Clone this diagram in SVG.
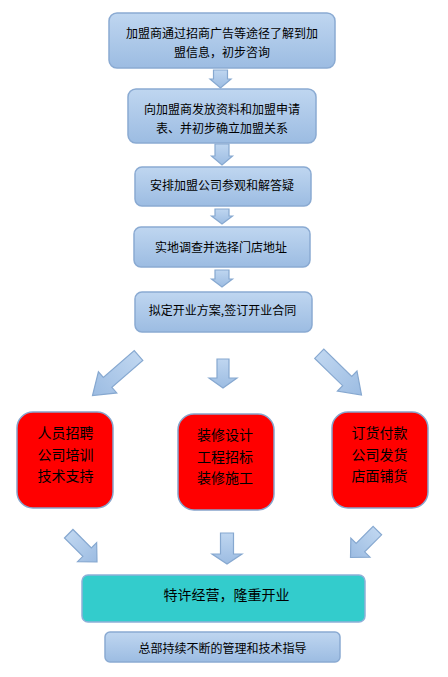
<svg xmlns="http://www.w3.org/2000/svg" width="448" height="677" viewBox="0 0 448 677">
<defs>
<linearGradient id="blueGrad" x1="0" y1="0" x2="0" y2="1">
<stop offset="0" stop-color="#BFD6F0"/>
<stop offset="1" stop-color="#9CBCE2"/>
</linearGradient>
<style>
.box{fill:url(#blueGrad);stroke:#8AAAD2;stroke-width:1.5}
.red{fill:#FF0000;stroke:#86A4CC;stroke-width:1.5}
.teal{fill:#33CCCC;stroke:#8EB0D8;stroke-width:1.5}
.arr{fill:url(#blueGrad);stroke:#86A8D0;stroke-width:1.2}
text{font-family:"Noto Sans CJK SC","Noto Sans",sans-serif;fill:#000;text-anchor:middle}
.t12{font-size:12px}
.t14{font-size:14px}
</style>
</defs>
<rect width="448" height="677" fill="#FFFFFF"/>
<g id="connectors">
<polygon class="arr" transform="translate(220.5,88)" points="-7,-18 7,-18 7,-9 10.5,-9 0,0 -10.5,-9 -7,-9"/>
<polygon class="arr" transform="translate(222,165)" points="-7,-21 7,-21 7,-9 10.5,-9 0,0 -10.5,-9 -7,-9"/>
<polygon class="arr" transform="translate(222,224)" points="-7,-15 7,-15 7,-8 10.5,-8 0,0 -10.5,-8 -7,-8"/>
<polygon class="arr" transform="translate(222,287)" points="-7,-17 7,-17 7,-8 10.5,-8 0,0 -10.5,-8 -7,-8"/>
<polygon class="arr" transform="translate(92.5,395.5) rotate(49)" points="-6.5,-61 6.5,-61 6.5,-20 14,-20 0,0 -14,-20 -6.5,-20"/>
<polygon class="arr" transform="translate(223,388)" points="-6,-29 6,-29 6,-10 14,-10 0,0 -14,-10 -6,-10"/>
<polygon class="arr" transform="translate(361.5,395) rotate(-45.7)" points="-6.5,-59 6.5,-59 6.5,-20 14,-20 0,0 -14,-20 -6.5,-20"/>
<polygon class="arr" transform="translate(97,562) rotate(-45)" points="-6,-40 6,-40 6,-14 13.5,-14 0,0 -13.5,-14 -6,-14"/>
<polygon class="arr" transform="translate(227,564)" points="-6.5,-31 6.5,-31 6.5,-10 15,-10 0,0 -15,-10 -6.5,-10"/>
<polygon class="arr" transform="translate(350.5,557.5) rotate(45)" points="-6,-38 6,-38 6,-14 13.5,-14 0,0 -13.5,-14 -6,-14"/>
</g>
<g id="n1">
<rect class="box" x="109" y="13" width="226" height="55" rx="8"/>
<text class="t12" x="222" y="38">加盟商通过招商广告等途径了解到加</text>
<text class="t12" x="222" y="57">盟信息，初步咨询</text>
</g>
<g id="n2">
<rect class="box" x="128" y="89" width="188" height="54" rx="8"/>
<text class="t12" x="222" y="114">向加盟商发放资料和加盟申请</text>
<text class="t12" x="222" y="133">表、并初步确立加盟关系</text>
</g>
<g id="n3">
<rect class="box" x="135" y="167" width="176" height="39" rx="7"/>
<text class="t12" x="222" y="190">安排加盟公司参观和解答疑</text>
</g>
<g id="n4">
<rect class="box" x="134" y="227" width="176" height="40" rx="7"/>
<text class="t12" x="221" y="251.5">实地调查并选择门店地址</text>
</g>
<g id="n5">
<rect class="box" x="135" y="292" width="177" height="40" rx="7"/>
<text class="t12" x="222.5" y="315">拟定开业方案,签订开业合同</text>
</g>
<g id="n6">
<rect class="red" x="17" y="412" width="96" height="96" rx="16"/>
<text class="t14" x="65.5" y="438">人员招聘</text>
<text class="t14" x="65.5" y="459.5">公司培训</text>
<text class="t14" x="65.5" y="481">技术支持</text>
</g>
<g id="n7">
<rect class="red" x="178" y="414" width="96" height="96" rx="16"/>
<text class="t14" x="225" y="440">装修设计</text>
<text class="t14" x="225" y="461.5">工程招标</text>
<text class="t14" x="225" y="483">装修施工</text>
</g>
<g id="n8">
<rect class="red" x="332" y="412" width="96" height="96" rx="16"/>
<text class="t14" x="379.5" y="438">订货付款</text>
<text class="t14" x="379.5" y="459.5">公司发货</text>
<text class="t14" x="379.5" y="481">店面铺货</text>
</g>
<g id="n9">
<rect class="teal" x="82" y="575" width="283" height="47" rx="6"/>
<text class="t14" x="226.5" y="600">特许经营，隆重开业</text>
</g>
<g id="n10">
<rect class="box" x="105" y="632" width="235" height="30" rx="5"/>
<text class="t12" x="222.5" y="652.5">总部持续不断的管理和技术指导</text>
</g>
</svg>
